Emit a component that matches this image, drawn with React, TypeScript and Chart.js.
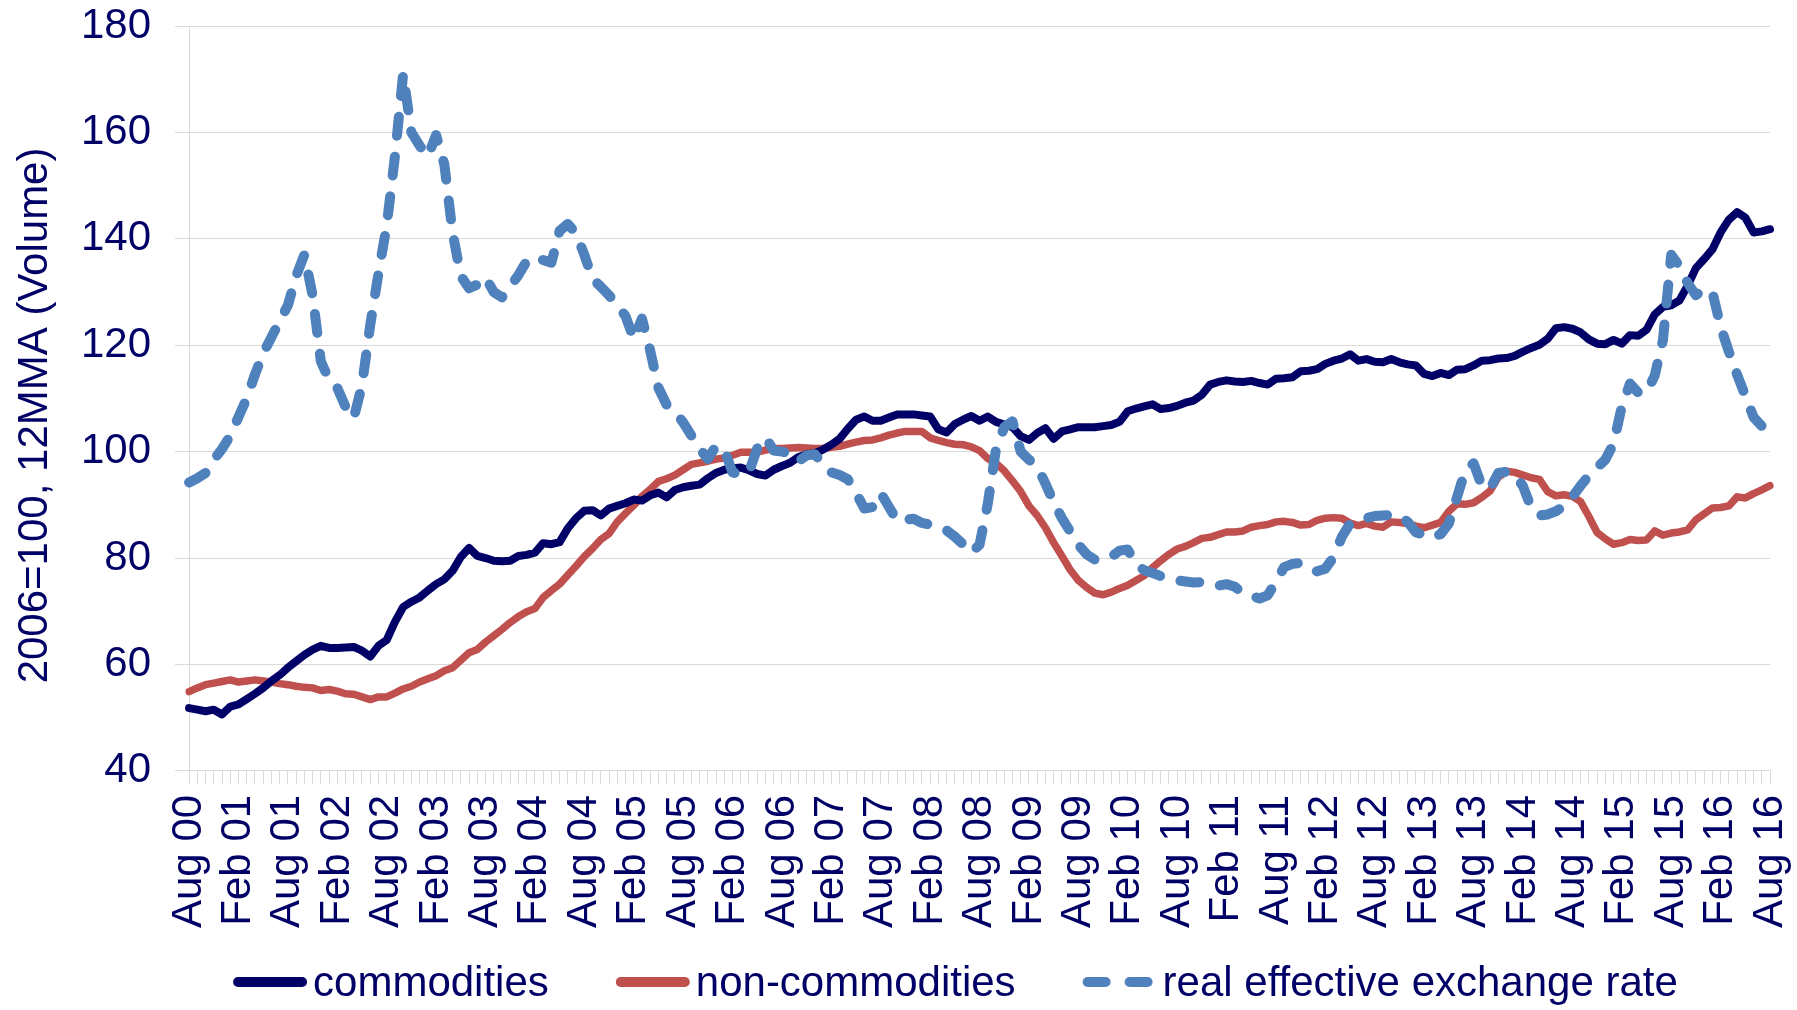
import React, { useEffect, useRef } from "react";
import { Chart, registerables } from "chart.js";

Chart.register(...registerables);

const W = 1797;
const H = 1010;
const FONT = "'Liberation Sans', Arial, sans-serif";
const TEXT_COLOR = "#000066";

// Monthly categories, Aug 2000 .. Aug 2016
const MONTH_NAMES = ["Jan", "Feb", "Mar", "Apr", "May", "Jun", "Jul", "Aug", "Sep", "Oct", "Nov", "Dec"];
const categories: string[] = [];
for (let k = 0; k < 193; k++) {
  const m = (7 + k) % 12;
  const y = 2000 + Math.floor((7 + k) / 12);
  categories.push(MONTH_NAMES[m] + " " + String(y % 100).padStart(2, "0"));
}

const tickLabels = [
  "Aug 00", "Feb 01", "Aug 01", "Feb 02", "Aug 02", "Feb 03", "Aug 03", "Feb 04", "Aug 04",
  "Feb 05", "Aug 05", "Feb 06", "Aug 06", "Feb 07", "Aug 07", "Feb 08", "Aug 08", "Feb 09",
  "Aug 09", "Feb 10", "Aug 10", "Feb 11", "Aug 11", "Feb 12", "Aug 12", "Feb 13", "Aug 13",
  "Feb 14", "Aug 14", "Feb 15", "Aug 15", "Feb 16", "Aug 16",
];

const yTicks = [40, 60, 80, 100, 120, 140, 160, 180];
const yTitle = "2006=100, 12MMA (Volume)";

const commodities = [
  51.8, 51.5, 51.2, 51.5, 50.6, 52.1, 52.5, 53.5, 54.5, 55.6, 56.9, 58.0,
  59.4, 60.6, 61.8, 62.8, 63.5, 63.1, 63.1, 63.2, 63.3, 62.6, 61.5, 63.5,
  64.6, 68.0, 70.8, 71.8, 72.6, 73.9, 75.1, 76.0, 77.6, 80.2, 81.9, 80.4,
  80.0, 79.5, 79.4, 79.5, 80.4, 80.6, 81.0, 82.8, 82.6, 83.0, 85.6, 87.5,
  88.9, 89.0, 88.0, 89.3, 89.8, 90.3, 91.0, 90.8, 91.8, 92.3, 91.4, 92.8,
  93.3, 93.6, 93.8, 95.0, 96.0, 96.6, 96.9, 97.0, 96.5, 95.8, 95.5, 96.6,
  97.3, 97.9, 99.0, 99.5, 99.7, 100.4, 101.3, 102.4, 104.3, 106.0, 106.6, 105.8,
  105.8, 106.4, 107.0, 107.0, 107.0, 106.8, 106.6, 104.2, 103.6, 105.2, 106.0, 106.7,
  105.8, 106.6, 105.6, 105.1, 104.6, 102.9, 102.2, 103.5, 104.4, 102.4, 103.8, 104.2,
  104.6, 104.6, 104.6, 104.8, 105.0, 105.6, 107.6, 108.1, 108.5, 108.9, 108.0, 108.2,
  108.6, 109.2, 109.6, 110.7, 112.6, 113.1, 113.4, 113.2, 113.1, 113.3, 112.9, 112.6,
  113.7, 113.8, 114.0, 115.1, 115.2, 115.5, 116.5, 117.1, 117.5, 118.3, 117.1, 117.4,
  116.9, 116.8, 117.4, 116.8, 116.4, 116.2, 114.6, 114.2, 114.8, 114.4, 115.4, 115.5,
  116.2, 117.1, 117.2, 117.5, 117.6, 118.0, 118.8, 119.5, 120.1, 121.2, 123.2, 123.4,
  123.1, 122.4, 121.1, 120.3, 120.2, 121.0, 120.3, 121.9, 121.8, 122.9, 125.8, 127.2,
  127.5, 128.4, 131.2, 134.5, 136.2, 138.0, 141.2, 143.6, 145.0, 144.0, 141.2, 141.4, 141.8,
];

const nonCommodities = [
  54.9, 55.6, 56.2, 56.5, 56.8, 57.1, 56.7, 56.9, 57.1, 56.9, 56.7, 56.4,
  56.2, 55.9, 55.7, 55.6, 55.1, 55.3, 55.0, 54.5, 54.4, 53.9, 53.4, 53.9,
  53.9, 54.6, 55.4, 55.9, 56.7, 57.3, 57.9, 58.8, 59.4, 60.8, 62.2, 62.8,
  64.2, 65.4, 66.6, 67.9, 69.0, 69.9, 70.5, 72.6, 73.9, 75.1, 76.8, 78.5,
  80.3, 81.8, 83.5, 84.6, 86.8, 88.4, 89.9, 91.6, 92.9, 94.4, 94.9, 95.6,
  96.6, 97.6, 97.9, 98.2, 98.6, 98.8, 99.3, 99.9, 99.9, 99.9, 100.3, 100.6,
  100.6, 100.7, 100.8, 100.7, 100.6, 100.6, 100.8, 101.0, 101.4, 101.8, 102.1, 102.2,
  102.6, 103.1, 103.5, 103.8, 103.8, 103.8, 102.6, 102.1, 101.7, 101.4, 101.3, 100.9,
  100.2, 98.7, 97.8, 96.4, 94.5, 92.5, 89.8, 88.0, 85.7, 82.9, 80.4, 77.8,
  75.8, 74.5, 73.4, 73.1, 73.6, 74.3, 74.9, 75.8, 76.7, 78.2, 79.5, 80.7,
  81.7, 82.2, 82.9, 83.7, 83.9, 84.4, 84.9, 84.9, 85.1, 85.8, 86.1, 86.3,
  86.8, 86.9, 86.7, 86.2, 86.3, 87.1, 87.5, 87.6, 87.5, 86.6, 86.1, 86.5,
  86.0, 85.8, 86.8, 86.7, 86.5, 86.0, 85.7, 86.2, 86.7, 88.8, 90.2, 90.1,
  90.4, 91.4, 92.6, 95.2, 96.3, 96.1, 95.6, 95.1, 94.8, 92.5, 91.7, 91.9,
  91.6, 90.6, 87.8, 84.8, 83.6, 82.6, 82.9, 83.5, 83.3, 83.4, 85.1, 84.3,
  84.7, 84.9, 85.3, 87.2, 88.3, 89.4, 89.5, 89.8, 91.5, 91.3, 92.1, 92.8, 93.6,
];

const realEffectiveExchangeRate = [
  94.2, 95.0, 96.0, 98.5, 100.5, 103.0, 106.5, 110.0, 114.5, 118.5, 121.5, 124.5,
  127.5, 133.0, 137.0, 129.4, 117.0, 113.5, 112.0, 108.4, 106.3, 112.5, 123.8, 133.5,
  142.5, 155.5, 171.0, 160.0, 157.5, 155.5, 159.5, 154.0, 141.2, 133.0, 130.7, 131.4,
  132.8, 130.0, 129.0, 131.0, 133.2, 135.8, 136.6, 136.0, 135.5, 141.5, 142.8, 141.0,
  137.0, 132.5, 131.0, 129.4, 127.5, 125.5, 121.2, 125.0, 119.0, 112.0, 108.8, 107.5,
  105.5, 103.0, 100.6, 98.6, 101.1, 100.4, 96.1, 95.7, 96.2, 100.6, 102.7, 100.2,
  100.0, 99.7, 98.2, 99.3, 99.5, 97.6, 96.1, 95.6, 94.8, 92.3, 89.3, 89.6,
  92.2, 89.6, 87.0, 87.2, 87.4, 86.6, 86.3, 85.8, 85.2, 84.0, 82.6, 81.0,
  82.5, 90.2, 100.5, 104.6, 105.7, 100.0, 98.5, 97.2, 94.0, 90.5, 87.5, 85.0,
  82.5, 80.7, 79.7, 79.7, 80.2, 81.4, 81.6, 78.8, 77.7, 77.2, 76.6, 76.2,
  75.8, 75.6, 75.4, 75.5, 75.0, 74.8, 75.1, 74.6, 73.4, 72.9, 72.4, 73.0,
  75.6, 78.3, 78.9, 79.1, 78.3, 77.5, 78.0, 80.2, 84.0, 86.5, 87.1, 87.5,
  87.9, 88.0, 88.1, 88.0, 86.8, 84.8, 84.4, 83.8, 84.5, 86.5, 91.5, 96.5,
  97.8, 93.6, 93.0, 96.0, 96.2, 95.8, 93.5, 89.5, 88.0, 88.2, 88.8, 89.8,
  91.5, 93.6, 95.5, 97.0, 98.5, 101.5, 108.5, 112.8, 111.1, 111.1, 114.3, 121.0,
  137.0, 134.9, 131.7, 129.4, 130.5, 130.0, 123.5, 118.8, 114.5, 110.5, 106.5, 104.8, 103.8,
];

const seriesNames = ["commodities", "non-commodities", "real effective exchange rate"];
const seriesColors = ["#000066", "#C0504D", "#4F81BD"];

const annotationsPlugin = {
  id: "legendAndAxisTitle",
  afterDraw(chart: any) {
    const ctx = chart.ctx as CanvasRenderingContext2D;
    const area = chart.chartArea;
    ctx.save();
    ctx.font = `42px ${FONT}`;
    ctx.fillStyle = TEXT_COLOR;

    // y-axis title (rotated)
    ctx.save();
    ctx.translate(35, (area.top + area.bottom) / 2 + 17);
    ctx.rotate(-Math.PI / 2);
    ctx.textAlign = "center";
    ctx.textBaseline = "middle";
    ctx.fillText(yTitle, 0, 0);
    ctx.restore();

    // legend
    ctx.textBaseline = "alphabetic";
    ctx.textAlign = "left";
    const yLine = 982;
    const yText = 996;
    let x = area.left + 49;
    seriesNames.forEach((name, i) => {
      const dashed = i === 2;
      const len = dashed ? 60 : 64;
      ctx.strokeStyle = seriesColors[i];
      ctx.lineWidth = 10;
      ctx.lineCap = "round";
      ctx.setLineDash(dashed ? [18, 24] : []);
      ctx.beginPath();
      ctx.moveTo(x, yLine);
      ctx.lineTo(x + len, yLine);
      ctx.stroke();
      ctx.setLineDash([]);
      const tx = x + 75;
      ctx.fillStyle = TEXT_COLOR;
      ctx.fillText(name, tx, yText);
      x = tx + ctx.measureText(name).width + 72;
    });
    ctx.restore();
  },
};

export default function App() {
  const canvasRef = useRef<HTMLCanvasElement | null>(null);

  useEffect(() => {
    document.body.style.margin = "0";
    const canvas = canvasRef.current;
    if (!canvas) return;
    Chart.defaults.font.family = FONT;

    const chart = new Chart(canvas, {
      type: "line",
      data: {
        labels: categories,
        datasets: [
          {
            label: seriesNames[0],
            data: commodities,
            borderColor: seriesColors[0],
            backgroundColor: seriesColors[0],
            borderWidth: 8,
            borderJoinStyle: "round",
            borderCapStyle: "round",
            pointRadius: 0,
            tension: 0,
            order: 1,
          },
          {
            label: seriesNames[1],
            data: nonCommodities,
            borderColor: seriesColors[1],
            backgroundColor: seriesColors[1],
            borderWidth: 7.5,
            borderJoinStyle: "round",
            borderCapStyle: "round",
            pointRadius: 0,
            tension: 0,
            order: 2,
          },
          {
            label: seriesNames[2],
            data: realEffectiveExchangeRate,
            borderColor: seriesColors[2],
            backgroundColor: seriesColors[2],
            borderWidth: 10,
            borderDash: [19, 21],
            borderJoinStyle: "round",
            borderCapStyle: "round",
            pointRadius: 0,
            tension: 0,
            order: 0,
          },
        ],
      },
      options: {
        animation: false,
        responsive: false,
        devicePixelRatio: 1,
        layout: { padding: { left: 57, top: 26, right: 27, bottom: 71 } },
        plugins: {
          legend: { display: false },
          tooltip: { enabled: false },
          title: { display: false },
        },
        scales: {
          x: {
            type: "category",
            offset: false,
            afterFit: (scale: any) => {
              scale.paddingLeft = 0;
              scale.paddingRight = 0;
            },
            grid: {
              display: true,
              drawOnChartArea: false,
              drawTicks: true,
              tickLength: 13,
              color: "#D9D9D9",
              lineWidth: 1,
            },
            border: { display: true, color: "#D9D9D9", width: 1 },
            ticks: {
              autoSkip: false,
              maxRotation: 90,
              minRotation: 90,
              padding: 11,
              color: TEXT_COLOR,
              font: { size: 42, family: FONT },
              callback: (_v: any, index: number) =>
                tickLabels.includes(categories[index]) ? categories[index] : "",
            },
          },
          y: {
            type: "linear",
            min: yTicks[0],
            max: yTicks[yTicks.length - 1],
            afterBuildTicks: (scale: any) => {
              scale.ticks = yTicks.map((v) => ({ value: v }));
            },
            afterFit: (scale: any) => {
              scale.paddingTop = 0;
              scale.paddingBottom = 0;
            },
            grid: {
              color: "#D9D9D9",
              lineWidth: 1,
              drawTicks: true,
              tickLength: 14,
            },
            border: { display: true, color: "#D9D9D9", width: 1 },
            ticks: {
              padding: 24,
              color: TEXT_COLOR,
              font: { size: 42, family: FONT },
            },
            title: { display: false },
          },
        },
      },
      plugins: [annotationsPlugin],
    });

    return () => chart.destroy();
  }, []);

  return (
    <div style={{ position: "absolute", left: 0, top: 0, width: W, height: H, background: "#fff" }}>
      <canvas ref={canvasRef} width={W} height={H} style={{ display: "block", width: W, height: H }} />
    </div>
  );
}
